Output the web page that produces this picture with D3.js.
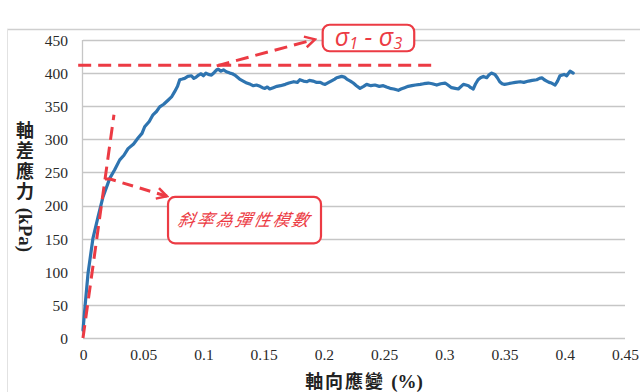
<!DOCTYPE html>
<html>
<head>
<meta charset="utf-8">
<script src="https://cdn.jsdelivr.net/npm/d3@7"></script>
<style>
  html, body { margin: 0; padding: 0; background: #fff; }
  svg { display: block; }
</style>
</head>
<body>
<svg id="chart" width="640" height="392"></svg>
<script>
// Axial strain (%) measured along the test
const strain = [
  0, 0.0019, 0.0042, 0.0083, 0.0125, 0.0166, 0.0222, 0.0263, 0.0305, 0.0340,
  0.0374, 0.0420, 0.0457, 0.0490, 0.0512, 0.0550, 0.0581, 0.0610, 0.0637, 0.0670,
  0.0706, 0.0735, 0.0761, 0.0785, 0.0803, 0.0825, 0.0844, 0.0870, 0.0900, 0.0920,
  0.0940, 0.0960, 0.0980, 0.1000, 0.1020, 0.1040, 0.1066, 0.1090, 0.1110, 0.1124,
  0.1145, 0.1166, 0.1190, 0.1220, 0.1240, 0.1260, 0.1280, 0.1300, 0.1330, 0.1360,
  0.1390, 0.1414, 0.1440, 0.1470, 0.1490, 0.1510, 0.1530, 0.1550, 0.1580, 0.1610,
  0.1640, 0.1680, 0.1710, 0.1750, 0.1780, 0.1800, 0.1830, 0.1860, 0.1880, 0.1910,
  0.1940, 0.1970, 0.1990, 0.2010, 0.2040, 0.2060, 0.2090, 0.2106, 0.2148, 0.2170,
  0.2190, 0.2220, 0.2244, 0.2270, 0.2300, 0.2330, 0.2355, 0.2390, 0.2424, 0.2460,
  0.2493, 0.2520, 0.2550, 0.2580, 0.2618, 0.2640, 0.2670, 0.2700, 0.2730, 0.2760,
  0.2800, 0.2830, 0.2867, 0.2900, 0.2937, 0.2970, 0.3006, 0.3030, 0.3060, 0.3090,
  0.3116, 0.3158, 0.3180, 0.3200, 0.3220, 0.3240, 0.3260, 0.3280, 0.3300, 0.3324,
  0.3352, 0.3370, 0.3390, 0.3420, 0.3440, 0.3460, 0.3480, 0.3500, 0.3530, 0.3560,
  0.3590, 0.3630, 0.3660, 0.3700, 0.3730, 0.3767, 0.3790, 0.3810, 0.3830, 0.3850,
  0.3870, 0.3890, 0.3920, 0.3940, 0.3960, 0.3994, 0.4016, 0.4044, 0.4070
];

// Deviator stress (kPa) at each strain reading
const deviatorStress = [
  12, 52, 98, 151, 183, 213, 241, 254, 269, 276,
  286, 293, 302, 309, 319, 327, 337, 342, 349, 353,
  359, 364, 372, 380, 390, 391, 392, 395, 396, 392,
  394, 397, 399, 396, 400, 398, 397, 401, 405, 406,
  403, 405, 402, 400, 399, 397, 394, 391, 388, 385,
  383, 381, 382, 380, 378, 377, 379, 376, 378, 380,
  381, 383, 385, 387, 386, 390, 388, 387, 389, 388,
  386, 386, 384, 383, 386, 388, 391, 393, 395, 394,
  391, 388, 385, 381, 377, 380, 383, 381, 382, 380,
  381, 379, 377, 376, 374, 376, 378, 380, 381, 382,
  383, 384, 385, 384, 382, 384, 385, 382, 378, 377,
  376, 383, 382, 381, 378, 376, 384, 390, 393, 395,
  393, 397, 400, 398, 393, 387, 384, 383, 384, 385,
  386, 387, 386, 388, 389, 390, 392, 393, 390, 388,
  386, 385, 382, 388, 396, 398, 396, 403, 400
];

const yTicks = [0, 50, 100, 150, 200, 250, 300, 350, 400, 450];
const xTicks = [0, 0.05, 0.1, 0.15, 0.2, 0.25, 0.3, 0.35, 0.4, 0.45];

// Annotation guides, in data units (strain %, kPa)
const modulusLine = [[0, 0], [0.0257, 337]];
const peakLine = [[-0.004, 412], [0.294, 412]];
const peakArrow = [[0.111, 411], [0.1926, 451]];
const modulusArrow = [[0.0183, 240], [0.0225, 240], [0.0697, 214]];
const peakLabelBox = [[0.199, 473], [0.275, 433]];
const modulusLabelBox = [[0.0706, 213], [0.1976, 143]];
const modulusLabel = "斜率為彈性模數";

const svg = d3.select("#chart");
const x = d3.scaleLinear().domain([0, 0.45]).range([83, 625]);
const y = d3.scaleLinear().domain([0, 450]).range([338, 40]);

const RED = "#ec3b44";
const BLUE = "#2e74b0";
const SERIF = "'Liberation Serif', 'Times New Roman', 'DejaVu Serif', serif";
const CJK = "'Noto Sans CJK TC', 'Noto Sans CJK SC', sans-serif";

// outer chart frame (top and left edges)
svg.append("line").attr("x1", 7).attr("x2", 640).attr("y1", 29.5).attr("y2", 29.5)
  .attr("stroke", "#cfcfcf").attr("stroke-width", 1.5);
svg.append("line").attr("x1", 7.5).attr("x2", 7.5).attr("y1", 29).attr("y2", 392)
  .attr("stroke", "#e2e2e2").attr("stroke-width", 1);

// horizontal gridlines
svg.append("g").selectAll("line").data(yTicks).join("line")
  .attr("x1", x(0)).attr("x2", x(0.45))
  .attr("y1", d => Math.round(y(d)) + 0.5).attr("y2", d => Math.round(y(d)) + 0.5)
  .attr("stroke", "#c6c6c6").attr("stroke-width", 1.3);

// vertical axis line
svg.append("line").attr("x1", x(0) - 0.5).attr("x2", x(0) - 0.5)
  .attr("y1", y(450)).attr("y2", y(0))
  .attr("stroke", "#c6c6c6").attr("stroke-width", 1.3);

// tick labels
const yAxis = d3.axisLeft(y).tickValues(yTicks).tickSize(0).tickPadding(15).tickFormat(d3.format("d"));
const gy = svg.append("g").attr("transform", `translate(${x(0)},0)`).call(yAxis);
gy.attr("font-family", null).attr("font-size", null);
gy.select(".domain").remove();
gy.selectAll("text").style("font-family", SERIF)
  .style("font-size", "15.5px").attr("fill", "#2a2a2a").attr("dy", "0.35em");

const xAxis = d3.axisBottom(x).tickValues(xTicks).tickSize(0).tickPadding(11).tickFormat(d => String(d));
const gx = svg.append("g").attr("transform", `translate(0,${y(0)})`).call(xAxis);
gx.attr("font-family", null).attr("font-size", null);
gx.select(".domain").remove();
gx.selectAll("text").style("font-family", SERIF)
  .style("font-size", "15.5px").attr("fill", "#2a2a2a");

// y-axis title, set vertically: CJK upright, the unit turned sideways
svg.append("text")
  .attr("x", 25).attr("y", 121)
  .style("writing-mode", "vertical-rl").style("text-orientation", "mixed")
  .attr("font-weight", "bold").attr("fill", "#222")
  .call(t => {
    t.append("tspan").style("font-family", CJK).style("font-size", "18px")
      .style("letter-spacing", "2.5px").text("軸差應力");
    t.append("tspan").style("font-family", SERIF).style("font-size", "19px").text(" (kPa)");
  });

svg.append("text").attr("x", 364).attr("y", 382).attr("dy", "0.35em").attr("text-anchor", "middle")
  .attr("font-weight", "bold").attr("fill", "#222")
  .call(t => {
    t.append("tspan").style("font-family", CJK).style("font-size", "18px").attr("letter-spacing", 2).text("軸向應變 ");
    t.append("tspan").style("font-family", SERIF).style("font-size", "19px").text("(%)");
  });

// stress-strain curve
const line = d3.line().x((d, i) => x(strain[i])).y(d => y(d));
svg.append("path").datum(deviatorStress)
  .attr("d", line).attr("fill", "none").attr("stroke", BLUE)
  .attr("stroke-width", 3.2).attr("stroke-linejoin", "round").attr("stroke-linecap", "round");

// annotations
const defs = svg.append("defs");
defs.append("marker").attr("id", "chev").attr("viewBox", "-12 -7 14 14")
  .attr("markerWidth", 14).attr("markerHeight", 14).attr("refX", 0).attr("refY", 0)
  .attr("orient", "auto").attr("markerUnits", "userSpaceOnUse")
  .append("path").attr("d", "M-10,-5.5 L0,0 L-10,5.5").attr("fill", "none")
  .attr("stroke", RED).attr("stroke-width", 2.5);

const pline = d3.line().x(d => x(d[0])).y(d => y(d[1]));
const dash = "13,7";
svg.append("path").attr("d", pline(peakLine)).attr("stroke", RED).attr("stroke-width", 3)
  .attr("stroke-dasharray", dash).attr("fill", "none");
svg.append("path").attr("d", pline(modulusLine)).attr("stroke", RED).attr("stroke-width", 3)
  .attr("stroke-dasharray", dash).attr("fill", "none");
svg.append("path").attr("d", pline(peakArrow)).attr("stroke", RED).attr("stroke-width", 3)
  .attr("stroke-dasharray", dash).attr("fill", "none").attr("marker-end", "url(#chev)");
svg.append("path").attr("d", pline(modulusArrow)).attr("stroke", RED).attr("stroke-width", 3)
  .attr("stroke-dasharray", "11,7").attr("fill", "none").attr("marker-end", "url(#chev)");

function box(b) {
  const x0 = x(b[0][0]), x1 = x(b[1][0]), y0 = y(b[0][1]), y1 = y(b[1][1]);
  svg.append("rect").attr("x", x0).attr("y", y0).attr("width", x1 - x0).attr("height", y1 - y0)
    .attr("rx", 7).attr("fill", "#fff").attr("stroke", RED).attr("stroke-width", 2.2);
  return { cx: (x0 + x1) / 2, cy: (y0 + y1) / 2 };
}

const pb = box(peakLabelBox);
svg.append("text").attr("x", pb.cx).attr("y", pb.cy + 8).attr("text-anchor", "middle")
  .style("font-family", "'Open Sans', 'Liberation Sans', sans-serif").attr("font-style", "italic")
  .attr("fill", RED).style("font-size", "25px")
  .call(t => {
    t.append("tspan").text("σ");
    t.append("tspan").style("font-size", "16px").attr("dy", 3).text("1");
    t.append("tspan").attr("dy", -3).text(" - σ");
    t.append("tspan").style("font-size", "16px").attr("dy", 3).text("3");
  });

const mb = box(modulusLabelBox);
svg.append("text").attr("x", mb.cx).attr("y", mb.cy).attr("dy", "0.36em").attr("text-anchor", "middle")
  .style("font-family", CJK).attr("font-style", "italic")
  .attr("fill", RED).style("font-size", "17px").attr("letter-spacing", 2)
  .attr("transform", `skewX(-12) translate(${Math.tan(12 * Math.PI / 180) * mb.cy},0)`)
  .text(modulusLabel);
</script>
</body>
</html>
